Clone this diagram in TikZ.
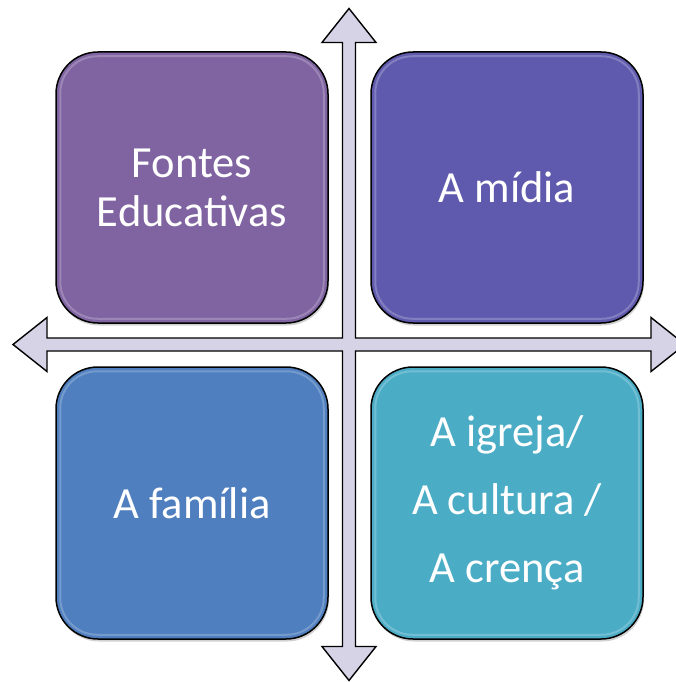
\documentclass[tikz,border=0pt]{standalone}
\usepackage{fontspec}
\setmainfont{Carlito}
\usetikzlibrary{shadows,calc}
\definecolor{cPurple}{HTML}{8064A2}
\definecolor{cIndigo}{HTML}{5F5AAD}
\definecolor{cBlue}{HTML}{4F7FBF}
\definecolor{cTeal}{HTML}{4BACC6}
\definecolor{cArrow}{HTML}{D7D3E6}
\tikzset{
  quad/.style={draw=black, line width=1.5pt, rounded corners=42pt,
    minimum width=272pt, minimum height=271pt, inner sep=0pt,
    text=white, align=center, font=\fontsize{44.5}{49}\selectfont,
    general shadow={fill=black, opacity=0.18, shadow xshift=1pt, shadow yshift=-2.5pt}},
  gloss/.style={draw=white, line width=2pt, opacity=0.22, rounded corners=37pt},
  crossarrow/.style={draw=black, line width=1.4pt, fill=cArrow, line join=miter}
}
\begin{document}
\begin{tikzpicture}[x=1pt,y=-1pt]
\useasboundingbox (0,0) rectangle (676,682);
\coordinate (c) at (349,344.5);
% cross of double-headed arrows
\draw[crossarrow]
  ($(c)+(0,-336)$) -- ($(c)+(27,-302)$) -- ($(c)+(6.5,-302)$) -- ($(c)+(6.5,-6.5)$)
  -- ($(c)+(302,-6.5)$) -- ($(c)+(302,-27)$) -- ($(c)+(336,0)$) -- ($(c)+(302,27)$)
  -- ($(c)+(302,6.5)$) -- ($(c)+(6.5,6.5)$) -- ($(c)+(6.5,302)$) -- ($(c)+(27,302)$)
  -- ($(c)+(0,336)$) -- ($(c)+(-27,302)$) -- ($(c)+(-6.5,302)$) -- ($(c)+(-6.5,6.5)$)
  -- ($(c)+(-302,6.5)$) -- ($(c)+(-302,27)$) -- ($(c)+(-336,0)$) -- ($(c)+(-302,-27)$)
  -- ($(c)+(-302,-6.5)$) -- ($(c)+(-6.5,-6.5)$) -- ($(c)+(-6.5,-302)$) -- ($(c)+(-27,-302)$)
  -- cycle;
% quadrants
\node[quad, fill=cPurple] (tl) at (192,187.5) {Fontes\\Educativas};
\node[quad, fill=cIndigo] (tr) at (507,187.5) {A mídia};
\node[quad, fill=cBlue, minimum height=272pt] (bl) at (192,503) {A família};
\node[quad, fill=cTeal, minimum height=272pt, font=\fontsize{44.5}{68}\selectfont] (br) at (507,503) {A igreja/\\A cultura /\\A crença};
% gloss
\foreach \n in {tl,tr,bl,br}{
  \draw[gloss] ($(\n.south west)+(5,-5)$) rectangle ($(\n.north east)+(-5,5)$);
}
\end{tikzpicture}
\end{document}
